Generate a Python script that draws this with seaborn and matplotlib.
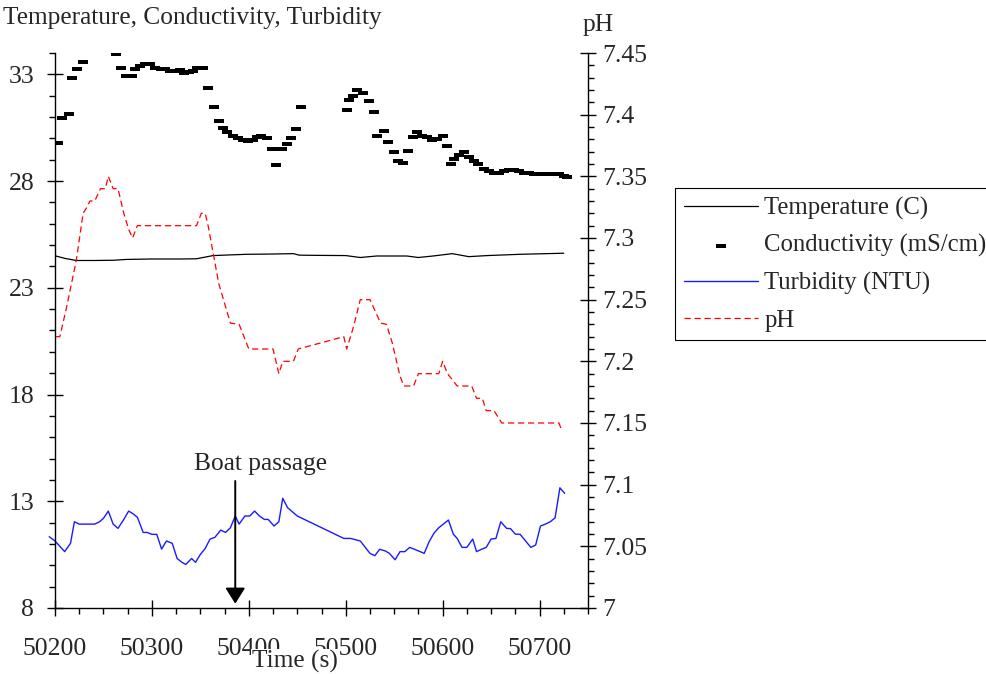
import matplotlib
matplotlib.use("Agg")
import matplotlib.pyplot as plt
from matplotlib.path import Path
from matplotlib.ticker import MultipleLocator, FixedLocator, FuncFormatter
import seaborn as sns

# ---- data -------------------------------------------------------------
temp_t = [50200, 50210, 50222, 50240, 50260, 50274, 50300, 50330, 50346, 50363,
          50380, 50398, 50420, 50446, 50452, 50470, 50500, 50515, 50532, 50563,
          50575, 50590, 50610, 50627, 50646, 50680, 50725]
temp_v = [24.5, 24.38, 24.28, 24.28, 24.29, 24.33, 24.35, 24.35, 24.36, 24.51,
          24.54, 24.57, 24.58, 24.6, 24.53, 24.52, 24.51, 24.42, 24.49, 24.49,
          24.42, 24.49, 24.6, 24.46, 24.51, 24.57, 24.62]

cond_t = [50203, 50207, 50214, 50218, 50223, 50229,
          50263, 50268, 50273, 50279, 50283, 50288, 50293, 50298, 50303, 50309,
          50314, 50319, 50324, 50329, 50333, 50338, 50342, 50347, 50353, 50358,
          50364, 50369, 50373, 50378, 50384, 50389, 50394, 50399, 50404, 50408,
          50413, 50419, 50424, 50428, 50434, 50439, 50444, 50449, 50454,
          50501, 50503, 50508, 50512, 50518, 50524, 50529, 50532, 50539, 50544,
          50550, 50554, 50559, 50564, 50569, 50574, 50579, 50584, 50589, 50594,
          50600, 50605, 50609, 50612, 50617, 50622, 50627, 50632, 50637, 50643,
          50648, 50653, 50658, 50663, 50668, 50674, 50679, 50684, 50689, 50694,
          50699, 50705, 50710, 50715, 50720, 50725, 50728]
cond_v = [29.78, 30.97, 31.15, 32.81, 33.25, 33.58,
          33.97, 33.3, 32.9, 32.9, 33.27, 33.37, 33.5, 33.47, 33.3, 33.27,
          33.23, 33.18, 33.15, 33.2, 33.06, 33.09, 33.18, 33.31, 33.28, 32.36,
          31.47, 30.83, 30.48, 30.29, 30.12, 30.01, 29.92, 29.87, 29.93, 30.06,
          30.12, 30.03, 29.5, 28.73, 29.5, 29.75, 30.03, 30.45, 31.47,
          31.34, 31.78, 32.0, 32.25, 32.12, 31.73, 31.22, 30.09, 30.34, 29.84,
          29.34, 28.94, 28.86, 29.43, 30.06, 30.31, 30.09, 30.06, 29.94, 29.97,
          30.09, 29.62, 28.81, 29.03, 29.23, 29.36, 29.12, 28.95, 28.81, 28.56,
          28.48, 28.37, 28.37, 28.45, 28.5, 28.5, 28.45, 28.37, 28.37, 28.33,
          28.34, 28.33, 28.33, 28.32, 28.32, 28.26, 28.17]

turb_t = [50194, 50200, 50210, 50216, 50220, 50225, 50241, 50246, 50250, 50255,
          50260, 50265, 50271, 50276, 50280, 50285, 50291, 50295, 50300, 50305,
          50310, 50315, 50321, 50326, 50331, 50335, 50341, 50345, 50350, 50355,
          50360, 50365, 50371, 50376, 50381, 50386, 50390, 50396, 50401, 50406,
          50411, 50416, 50420, 50426, 50431, 50435, 50440, 50450, 50498, 50505,
          50515, 50525, 50530, 50535, 50541, 50545, 50551, 50556, 50561, 50566,
          50571, 50581, 50586, 50591, 50596, 50606, 50611, 50615, 50620, 50625,
          50631, 50635, 50640, 50645, 50650, 50655, 50660, 50666, 50670, 50675,
          50680, 50691, 50696, 50701, 50706, 50711, 50716, 50721, 50726]
turb_v = [11.34, 11.14, 10.64, 11.03, 12.04, 11.93, 11.93, 12.04, 12.2, 12.54,
          11.93, 11.73, 12.15, 12.54, 12.43, 12.25, 11.54, 11.54, 11.45, 11.45,
          10.76, 11.14, 11.03, 10.32, 10.14, 10.04, 10.32, 10.14, 10.51, 10.79,
          11.23, 11.31, 11.65, 11.54, 11.76, 12.31, 11.93, 12.31, 12.31, 12.54,
          12.31, 12.15, 12.15, 11.84, 12.04, 13.14, 12.7, 12.31, 11.26, 11.26,
          11.14, 10.56, 10.45, 10.75, 10.67, 10.56, 10.26, 10.64, 10.64, 10.84,
          10.75, 10.56, 11.1, 11.5, 11.76, 12.12, 11.46, 11.26, 10.84, 10.84,
          11.23, 10.64, 10.75, 10.84, 11.23, 11.26, 12.04, 11.73, 11.72, 11.46,
          11.45, 10.84, 10.95, 11.84, 11.93, 12.04, 12.22, 13.63, 13.37]

ph_t = [50201, 50205, 50212, 50222, 50229, 50233, 50236, 50241, 50247, 50252,
        50255, 50260, 50265, 50271, 50276, 50280, 50285, 50346, 50351, 50355,
        50358, 50369, 50381, 50390, 50400, 50425, 50431, 50435, 50446, 50451,
        50498, 50501, 50508, 50515, 50525, 50536, 50542, 50548, 50556, 50560,
        50570, 50575, 50596, 50600, 50605, 50615, 50630, 50635, 50641, 50645,
        50653, 50661, 50720, 50723]
ph_v = [7.22, 7.22, 7.244, 7.282, 7.32, 7.325, 7.33, 7.33, 7.34, 7.34,
        7.35, 7.34, 7.34, 7.32, 7.307, 7.30, 7.31, 7.31, 7.32, 7.32,
        7.31, 7.263, 7.231, 7.23, 7.21, 7.21, 7.19, 7.20, 7.20, 7.21,
        7.22, 7.21, 7.228, 7.25, 7.25, 7.231, 7.23, 7.215, 7.188, 7.18,
        7.18, 7.19, 7.19, 7.20, 7.19, 7.18, 7.18, 7.17, 7.17, 7.16,
        7.16, 7.15, 7.15, 7.144]

left_ticks = [8, 13, 18, 23, 28, 33]
right_ticks = [7.0, 7.05, 7.1, 7.15, 7.2, 7.25, 7.3, 7.35, 7.4, 7.45]
x_ticks = [50200, 50300, 50400, 50500, 50600, 50700]

series_labels = ["Temperature (C)", "Conductivity (mS/cm)", "Turbidity (NTU)", "pH"]
boat_time = 50386

# ---- style ------------------------------------------------------------
FS = 18.3
TICK_FS = 18.5
LEG_FS = 17.8
sns.set_style("white")
plt.rcParams["font.family"] = ["Liberation Serif", "DejaVu Serif"]
plt.rcParams["font.size"] = FS
plt.rcParams["axes.edgecolor"] = "black"

W, H = 987, 674
fig = plt.figure(figsize=(W / 100, H / 100), dpi=100)
ax = fig.add_axes([55 / W, 1 - 608 / H, (588 - 55) / W, (608 - 53) / H])
ax.set_facecolor("none")
ax2 = ax.twinx()

# temperature
sns.lineplot(x=temp_t, y=temp_v, ax=ax, color="black", linewidth=0.9,
             estimator=None, sort=False)
temp_line = ax.lines[-1]

# conductivity as small flat rectangles
rect = Path([(-1, -0.5), (1, -0.5), (1, 0.5), (-1, 0.5), (-1, -0.5)],
            [Path.MOVETO, Path.LINETO, Path.LINETO, Path.LINETO, Path.CLOSEPOLY])
sns.scatterplot(x=cond_t, y=cond_v, ax=ax, marker=rect, s=42, color="black",
                linewidth=0, zorder=3)
cond_pts = ax.collections[-1]

# turbidity
sns.lineplot(x=turb_t, y=turb_v, ax=ax, color="#1a1aff", linewidth=1.0,
             estimator=None, sort=False)
turb_line = ax.lines[-1]
turb_line.set_clip_on(False)

# pH on the right axis
sns.lineplot(x=ph_t, y=ph_v, ax=ax2, color="#ff0000", linewidth=0.9,
             estimator=None, sort=False)
ph_line = ax2.lines[-1]
ph_line.set_dashes([5, 3])

# axes limits and ticks
ax.set_xlim(50200, 50750)
ax.set_ylim(8, 34)
ax2.set_ylim(7.0, 7.45)

ax.xaxis.set_major_locator(FixedLocator(x_ticks))
ax.xaxis.set_minor_locator(MultipleLocator(25))
ax.yaxis.set_major_locator(FixedLocator(left_ticks))
ax.yaxis.set_minor_locator(MultipleLocator(1))
ax2.yaxis.set_major_locator(FixedLocator(right_ticks))
ax2.yaxis.set_minor_locator(MultipleLocator(0.01))
ax2.yaxis.set_major_formatter(FuncFormatter(lambda v, p: f"{v:g}"))
ax.xaxis.set_major_formatter(FuncFormatter(lambda v, p: f"{v:.0f}"))

for a in (ax, ax2):
    a.tick_params(which="major", direction="inout", length=11, width=1.0,
                  color="black", labelsize=TICK_FS)
    a.tick_params(which="minor", direction="out", length=4.5, width=1.0,
                  color="black")
    for sp in a.spines.values():
        sp.set_linewidth(1.0)
    a.spines["top"].set_visible(False)
    a.set_xlabel("")
    a.set_ylabel("")

ax.tick_params(axis="x", which="both", bottom=True, pad=16)
ax.tick_params(axis="y", which="both", left=True, right=False, pad=9.5)
ax2.tick_params(axis="y", which="both", right=True, left=False, pad=4.5)
ax.spines["right"].set_visible(False)
ax2.spines["left"].set_visible(False)
ax2.spines["bottom"].set_visible(False)

# x label, drawn over the tick labels on a white box
ax.set_xlabel("Time (s)", fontsize=FS,
              bbox=dict(facecolor="white", edgecolor="none", pad=1))
ax.xaxis.set_label_coords((295 - 55) / 533, -0.097)
ax.xaxis.label.set_va("center")

# boat passage marker
ax.annotate("", xy=(boat_time, 8.2), xytext=(boat_time, 13.95),
            arrowprops=dict(arrowstyle="-|>,head_length=0.4,head_width=0.25",
                            mutation_scale=24, color="black", lw=1.4,
                            shrinkA=0, shrinkB=0))
ax.text(50412, 14.75, "Boat passage", ha="center", va="center", fontsize=FS)

# titles
fig.text(3 / W, 1 - 18 / H, "Temperature, Conductivity, Turbidity",
         ha="left", va="center", fontsize=FS)
fig.text(598 / W, 1 - 25 / H, "pH", ha="center", va="center", fontsize=FS)

# legend
leg = fig.legend([temp_line, cond_pts, turb_line, ph_line], series_labels,
                 loc="upper left", bbox_to_anchor=(675 / W, 1 - 188 / H),
                 frameon=True, fancybox=False, shadow=False, framealpha=1,
                 edgecolor="black", borderpad=0.36, handlelength=3.0,
                 handletextpad=0.25, labelspacing=0.58, borderaxespad=0,
                 scatterpoints=1, fontsize=LEG_FS)
leg.get_frame().set_linewidth(0.8)

fig.savefig("out.png", dpi=100)
